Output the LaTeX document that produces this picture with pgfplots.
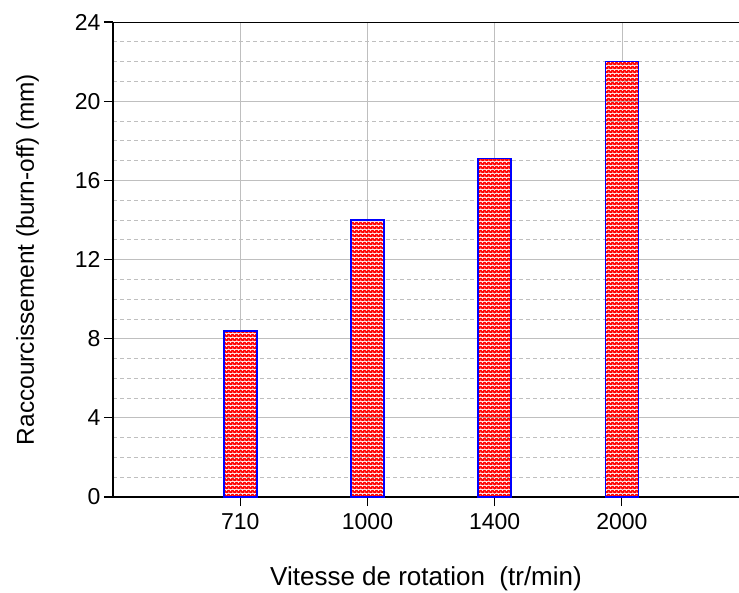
\documentclass[border=0pt]{standalone}
\usepackage{fontspec}
\setmainfont{Liberation Sans}
\usepackage{pgfplots}
\pgfplotsset{compat=1.18}
\usetikzlibrary{patterns.meta}
\tikzdeclarepattern{name=rwdots, type=colored,
  bounding box={(0pt,0pt) and (4pt,4pt)}, tile size={(4pt,4pt)},
  code={\fill[red] (0pt,0pt) rectangle (4pt,4pt);
        \fill[white] (1pt,1pt) circle (0.75pt); \fill[white] (3pt,3pt) circle (0.75pt);}}
\begin{document}
\begin{tikzpicture}
\begin{axis}[
 at={(0,0)}, anchor=south west,
 scale only axis, width=626pt, height=475pt,
 xmin=-1, xmax=3.92, ymin=0, ymax=24,
 xtick={0,1,2,3}, xticklabels={710,1000,1400,2000},
 ytick={0,4,...,24},
 minor y tick num=3,
 axis x line*=bottom, axis y line*=left,
 x axis line style={-, line width=1.3pt}, y axis line style={-, line width=1.1pt},
 tick align=outside, major tick length=9pt, minor tick length=0pt,
 tick style={black, line width=1.1pt},
 xmajorgrids, ymajorgrids, yminorgrids,
 major grid style={black!25, line width=0.8pt},
 minor grid style={black!25, dash pattern=on 4pt off 3pt, line width=0.7pt},
 tick label style={font=\fontsize{23}{24}\selectfont},
 xticklabel style={yshift=-4pt},
 xlabel style={font=\fontsize{26}{28}\selectfont, at={(axis description cs:0.5,0)}, anchor=base, yshift=-88pt},
 ylabel style={font=\fontsize{24.4}{26}\selectfont, at={(axis description cs:-0.1262,0.5)}, anchor=base},
 xlabel={Vitesse de rotation~~(tr/min)},
 ylabel={Raccourcissement (burn-off) (mm)},
 /pgf/number format/assume math mode=true,
]
\addplot[ybar, bar width=0.26, bar shift=0pt, pattern=rwdots, draw=blue, line width=1.8pt] coordinates {(0,8.4) (1,14.0) (2,17.1) (3,22.0)};
\draw[line width=1.4pt] (rel axis cs:0,1) -- (rel axis cs:1,1);
\end{axis}
\pgfresetboundingbox
\path[use as bounding box] (-113pt,-95pt) rectangle (626pt,497pt);
\end{tikzpicture}
\end{document}
